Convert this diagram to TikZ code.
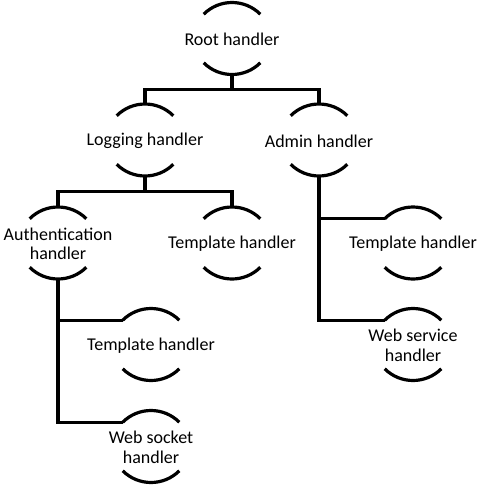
\documentclass[tikz,border=0pt]{standalone}
\usepackage{fontspec}
\setmainfont{Carlito}
\usetikzlibrary{calc}
\tikzset{
  hbox/.style={align=center, inner sep=0pt, font=\fontsize{18}{19.5}\selectfont, text=black, yshift=-1pt},
  arcline/.style={line width=3.2pt, draw=black},
  conn/.style={line width=3.2pt, draw=black}
}
\newcommand\hnode[4]{%
  \node[hbox] (#1) at (#2,-#3) {#4};
  \coordinate (#1-top) at (#2,-#3+36);
  \coordinate (#1-bot) at (#2,-#3-36);
  \coordinate (#1-left) at (#2-28.28,-#3+24.28);
  \draw[arcline] (#1-left) arc[start angle=135,end angle=45,radius=40];
  \draw[arcline] (#2-28.28,-#3-24.28) arc[start angle=225,end angle=315,radius=40];
}
\begin{document}
\begin{tikzpicture}[x=1pt,y=1pt]
\useasboundingbox (0,0) rectangle (483,-485);
\hnode{root}{232}{38.5}{Root handler}
\hnode{log}{145}{140}{Logging handler}
\hnode{admin}{319}{140}{Admin handler}
\hnode{auth}{58}{243}{Authentication\\handler}
\hnode{tmid}{232}{243}{Template handler}
\hnode{tright}{413}{243}{Template handler}
\hnode{tbl}{151}{344.5}{Template handler}
\hnode{wserv}{413}{344.5}{Web service\\handler}
\hnode{wsock}{151}{446.5}{Web socket\\handler}
% connectors
\coordinate (bar1) at ($(root-bot)!0.5!(log-top)$);
\coordinate (bar2) at ($(log-bot)!0.5!(auth-top)$);
\draw[conn] (root-bot) -- (root-bot|-bar1);
\draw[conn] (log-top) |- (bar1) -| (admin-top);
\draw[conn] (log-bot) -- (log-bot|-bar2);
\draw[conn] (auth-top) |- (bar2) -| (tmid-top);
\draw[conn] (admin-bot) |- (tright-left);
\draw[conn] (admin-bot) |- (wserv-left);
\draw[conn] (auth-bot) |- (tbl-left);
\draw[conn] (auth-bot) |- (wsock-left);
\end{tikzpicture}
\end{document}
